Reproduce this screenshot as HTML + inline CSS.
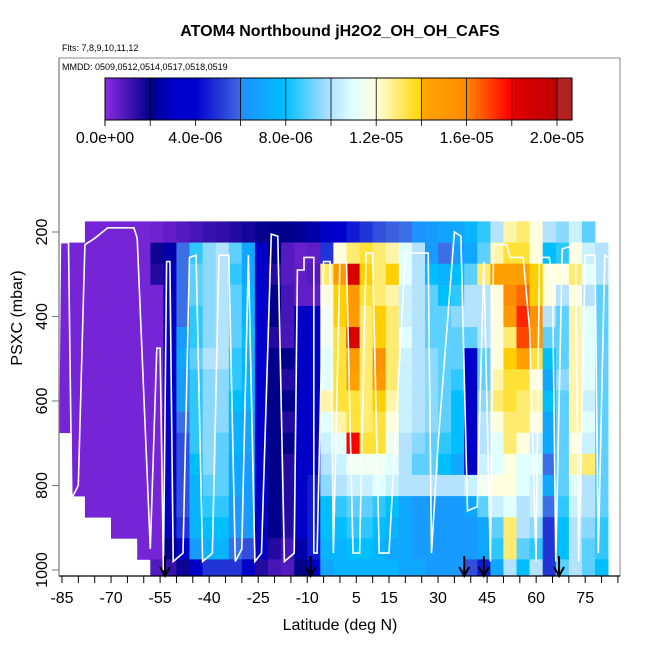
<!DOCTYPE html>
<html><head><meta charset="utf-8"><style>
body{margin:0;background:#fff;}
svg text{font-family:"Liberation Sans",sans-serif;}
</style></head><body>
<svg id="chart" width="650" height="650" viewBox="0 0 650 650" xmlns="http://www.w3.org/2000/svg">
<defs>
<linearGradient id="cbgrad" x1="0" x2="1" y1="0" y2="0">
<stop offset="0" stop-color="#8a2be2"/><stop offset="0.097" stop-color="#00008b"/>
<stop offset="0.15" stop-color="#0000cd"/><stop offset="0.193" stop-color="#0000cd"/>
<stop offset="0.29" stop-color="#4169e1"/><stop offset="0.292" stop-color="#1e90ff"/>
<stop offset="0.386" stop-color="#00bfff"/><stop offset="0.48" stop-color="#b0e0ff"/>
<stop offset="0.53" stop-color="#e0ffff"/><stop offset="0.58" stop-color="#ffffe0"/>
<stop offset="0.676" stop-color="#ffd700"/><stop offset="0.68" stop-color="#ffa500"/>
<stop offset="0.77" stop-color="#ff8c00"/><stop offset="0.87" stop-color="#ff0000"/>
<stop offset="0.88" stop-color="#dd0000"/><stop offset="0.965" stop-color="#c00000"/>
<stop offset="0.97" stop-color="#b22222"/><stop offset="1" stop-color="#b22222"/>
</linearGradient>
</defs>
<text x="340" y="36" text-anchor="middle" font-size="16" font-weight="bold">ATOM4 Northbound jH2O2_OH_OH_CAFS</text>
<text x="62" y="51" font-size="9">Flts: 7,8,9,10,11,12</text>
<rect x="59" y="58" width="561" height="518" fill="none" stroke="#888" stroke-width="1"/>
<text x="62" y="70" font-size="9">MMDD: 0509,0512,0514,0517,0518,0519</text>
<g id="heat"></g>
<g id="track"></g>
<g id="arrows"></g>
<g id="colorbar">
<rect x="105" y="78" width="467" height="42" fill="url(#cbgrad)" stroke="#000" stroke-width="1"/>
</g>
<g id="axes"></g>
<text x="340" y="630" text-anchor="middle" font-size="16">Latitude (deg N)</text>
<text transform="translate(22,318) rotate(-90)" text-anchor="middle" font-size="16">PSXC (mbar)</text>
</svg>
<script>
const _ = null;
const latCenters = [-84,-80,-76,-72,-68,-64,-60,-56,-52,-48,-44,-40,-36,-32,-28,-24,-20,-16,-12,-8,-4,0,4,8,12,16,20,24,28,32,36,40,44,48,52,56,60,64,68,72,76,80];
const pressureLevels = [200,250,300,350,400,450,500,550,600,650,700,750,800,850,900,950,1000];
// values in units of 1e-6
const jRows = [
[_,_,0.3,0.3,0.3,0.3,0.3,0.4,0.6,0.8,1.0,1.2,1.3,1.5,1.7,1.9,2.0,2.0,2.2,2.5,3.0,4.0,4.5,5,5.5,5.8,6,6.2,6.5,6.8,7,7.5,8.5,10,12.5,13,12,10,9.5,10.5,9,_],
[0.3,0.3,0.3,0.3,0.3,0.3,0.3,1.8,2.5,6,8.5,9.5,10,9,7,3,2,0.8,0.5,0.6,5,12,13,13.5,13,12.5,11,10,6.5,6,6.5,7,9,12.5,13.5,13.5,12,8,8.5,12,10.5,10],
[0.3,0.3,0.3,0.3,0.3,0.3,0.3,1.5,3,6,9,9.5,10,8.5,7,3,1.5,0.8,0.6,0.8,13,15,18.5,14,13,14,11,10,8,7.5,8,9,13,14.5,14.5,14.5,14,12,12,13,11,10],
[0.3,0.3,0.3,0.3,0.3,0.3,0.3,0.3,3,6,9,9.5,10,9,7.5,3.5,2,1,0.6,0.6,12,14,15,13.5,13,12.5,10.5,10,9,8,8.5,10,10,12,16,16.5,14,12,10,12,10,9],
[0.3,0.3,0.3,0.3,0.3,0.3,0.3,0.3,3,6,8.5,9.5,10,9,7.5,3.5,2,1,3,3.5,11.5,14,15,13,14,13,10.5,10,9,9,9.5,10,10,12,15,17.5,15.5,10,9,12.5,11,9],
[0.3,0.3,0.3,0.3,0.3,0.3,0.3,0.3,3,6.5,8.5,9.5,10,9,8,3.5,1.5,1,3,3.5,11.5,13.5,18.5,13,14,13,11,10,9,9,9,9,10,12,13,17,15,9,9,12.5,11,9],
[0.3,0.3,0.3,0.3,0.3,0.3,0.3,0.3,3,7,9,10,10,8.5,7.5,3.5,2,2,3,4,11,13.5,15,13,15.5,13,10.5,10,9.5,9,9,3.5,9,12,14,14.5,13.5,8,9,12.5,11,9],
[0.3,0.3,0.3,0.3,0.3,0.3,0.3,0.3,3,6.5,8.5,9.5,9.5,8.5,7.5,3.5,2,1.5,3,3.5,11,13.5,14.5,13,15,13,10.5,10,9.5,9,8.5,3,9,12.5,13.5,13.5,12,7,9.5,12.5,11,9],
[0.3,0.3,0.3,0.3,0.3,0.3,0.3,0.3,3,6.5,8.5,9.5,9.5,8,7.5,3.5,2,2,3,3.5,12.5,13.5,13.5,13,14,12.5,10.5,10,9.5,9,8,3,9.5,13,13.5,13,12.5,8,9,12.5,10.5,9],
[0.3,0.3,0.3,0.3,0.3,0.3,0.3,0.3,3,6,8.5,9.5,9.5,7.5,7,3.5,2,1.5,3,3,11,12.5,13.5,13,13.5,12,10.5,10,9.5,9,8,3,10,12,13,13,12,7,9,12.5,11,9],
[_,0.3,0.3,0.3,0.3,0.3,0.3,0.3,3,5.5,8.5,9.5,9,7.5,7,3.5,2,2,3,3.5,10.5,11,18,13.5,13.5,11.5,10,9.5,9,8.5,8,3.5,10,11,13,12,10.5,7,9,12,10.5,9],
[_,0.3,0.3,0.3,0.3,0.3,0.3,0.3,3,5.5,8,9.5,9,7,6.5,3.5,2,1.5,3,4,10,10.5,11.5,11.5,11.5,11,10,9,9,8,7,3,10.5,11,12,11,11,6,9,12.5,13,9],
[_,0.3,0.3,0.3,0.3,0.3,0.3,0.3,3,5.5,7.5,9,9,7,6.5,3,2,1.5,3,4.5,9.5,10,10.5,10.5,11,10.5,10,10,10,10,10,10.5,11.5,12,12,11,10.5,7,9,11,10,9],
[_,_,0.3,0.3,0.3,0.3,0.3,0.3,3,5.5,7.5,8.5,8.5,6.5,6.5,3,2,1.5,3,4.5,8,8.5,9,9,8.5,8,7,6.5,6.5,6.5,6.5,7,9,10.5,11,10,10.5,6,8.5,10.5,10,9],
[_,_,_,_,0.3,0.3,0.3,0.3,3,5,7.5,8,8,6.5,6.5,3,2,1.5,3,4.5,8,8,8.5,8.5,8,7.5,7,6.5,6.5,6.5,6.5,6.5,7,9,13,10,9.5,5,8,10,9.5,8.5],
[_,_,_,_,_,_,0.3,0.3,2,4,6.5,7.5,7.5,6,5.5,3,1.5,1,2.5,4.5,7.5,7.5,8,8,7.5,7,7,6.5,6.5,6.5,6.5,6.5,7,8.5,13,9,8.5,5,8,10,9,8.5],
[_,_,_,_,_,_,_,0.8,1.2,1.8,3,5,5,5,3,1.5,1,0.8,2,3.5,7,7.5,7.5,7.5,7.5,7.5,7,7,6.5,6.5,6.5,5.5,4.5,7,10,8,10,5,9,10,9,8]
];
const trackLat = [-86,-85.5,-83,-82,-80,-78,-75,-71,-63,-62,-58,-56,-55,-54,-53,-52,-51,-48,-46,-44,-42,-39,-37,-34,-32,-30,-28,-26,-24,-21,-19,-17,-14,-13,-11,-11,-8,-8,-7,-5,-3,-2,0,2,4,6,8,10,12,15,20,27,28,30,35,37,39,42,44,46,47,51,52,56,58,60,61,64,65,66,68,72,73,75,78,79,81,82];
const trackP = [620,225,225,830,800,230,215,190,190,215,950,475,475,1000,270,270,980,960,260,255,980,960,255,255,980,950,255,980,960,205,210,980,960,290,290,260,260,960,960,270,270,960,270,270,960,960,250,250,960,960,250,250,960,700,200,210,860,850,270,980,230,230,260,260,430,980,260,260,310,980,240,230,980,255,255,960,255,260];
const arrowLats = [-53.5,-9,38,44,67];
const xTickLabels = [-85,-70,-55,-40,-25,-10,5,15,30,45,60,75];
const yTickLabels = [200,400,600,800,1000];
const cbTickLabels = ["0.0e+00","4.0e-06","8.0e-06","1.2e-05","1.6e-05","2.0e-05"];
const cbTickValues = [0,4,8,12,16,20];

const NS="http://www.w3.org/2000/svg";
function X(lat){return 62+(lat+85)*3.27;}
function Y(p){return 232+(p-200)*0.4225;}
function CB(v){return 105+v*22.6;}
const stops=[[0,[138,43,226]],[2,[0,0,139]],[3.1,[0,0,205]],[4,[0,0,205]],[5.99,[65,105,225]],[6.05,[30,144,255]],[8,[0,191,255]],[9.9,[176,224,255]],[11,[224,255,255]],[12,[255,255,224]],[13.99,[255,215,0]],[14.05,[255,165,0]],[16,[255,140,0]],[18,[255,0,0]],[18.2,[221,0,0]],[20,[192,0,0]],[20.1,[178,34,34]],[30,[178,34,34]]];
function col(v){for(let i=1;i<stops.length;i++){if(v<=stops[i][0]){const a=stops[i-1],b=stops[i];const t=(v-a[0])/(b[0]-a[0]);const c=a[1].map((q,k)=>Math.round(q+(b[1][k]-q)*t));return `rgb(${c})`;}}return "rgb(178,34,34)";}
function mk(tag,attrs,parent){const e=document.createElementNS(NS,tag);for(const k in attrs)e.setAttribute(k,attrs[k]);parent.appendChild(e);return e;}

const heat=document.getElementById('heat');
jRows.forEach((row,r)=>{row.forEach((v,c)=>{if(v===null)return;
 const lat=latCenters[c],p=pressureLevels[r];
 const x0=X(lat-2),x1=X(lat+2),y0=Y(p-25),y1=Math.min(Y(p+25),576);
 const e=mk('rect',{x:x0.toFixed(1),y:y0.toFixed(1),width:(x1-x0+0.4).toFixed(1),height:(y1-y0+0.4).toFixed(1),fill:col(v)},heat);
 
 
});});

const track=document.getElementById('track');
const pl=mk('polyline',{points:trackLat.map((l,i)=>X(l).toFixed(1)+','+Y(trackP[i]).toFixed(1)).join(' '),fill:'none',stroke:'#fff','stroke-width':1.6},track);



const arrows=document.getElementById('arrows');
arrowLats.forEach(l=>{const x=X(l);
 const g=mk('path',{d:`M${x},556 L${x},575 M${x-5},567 L${x},576 L${x+5},567`,stroke:'#000','stroke-width':2,fill:'none'},arrows);
 
 
});

const axes=document.getElementById('axes');
const xl=mk('line',{x1:59,x2:620,y1:576,y2:576,stroke:'#000','stroke-width':1.2},axes);


const yl=mk('line',{x1:59,x2:59,y1:58,y2:576,stroke:'#777','stroke-width':1.2},axes);


for(let l=-85;l<=85;l+=5){const t=mk('line',{x1:X(l),x2:X(l),y1:576,y2:583,stroke:'#000'},axes);
 
 }
xTickLabels.forEach(l=>{const t=mk('text',{x:X(l),y:603,'text-anchor':'middle','font-size':16},axes);t.textContent=l;
 
 });
yTickLabels.forEach(p=>{const y=Y(p);
 const t=mk('line',{x1:52,x2:59,y1:y,y2:y,stroke:'#777'},axes);
 
 
 const tx=mk('text',{transform:`translate(47,${y}) rotate(-90)`,'text-anchor':'middle','font-size':16},axes);tx.textContent=p;
 
 });

const cb=document.getElementById('colorbar');
for(let v=2;v<=20;v+=2){const l=mk('line',{x1:CB(v),x2:CB(v),y1:78,y2:126,stroke:'#000','stroke-width':0.8},cb);
 
 }
const cbt=mk('line',{x1:105,x2:105,y1:120,y2:126,stroke:'#000'},cb);


cbTickValues.forEach((v,i)=>{const t=mk('text',{x:CB(v),y:143,'text-anchor':'middle','font-size':16},cb);t.textContent=cbTickLabels[i];
 
 });
</script>
</body></html>
